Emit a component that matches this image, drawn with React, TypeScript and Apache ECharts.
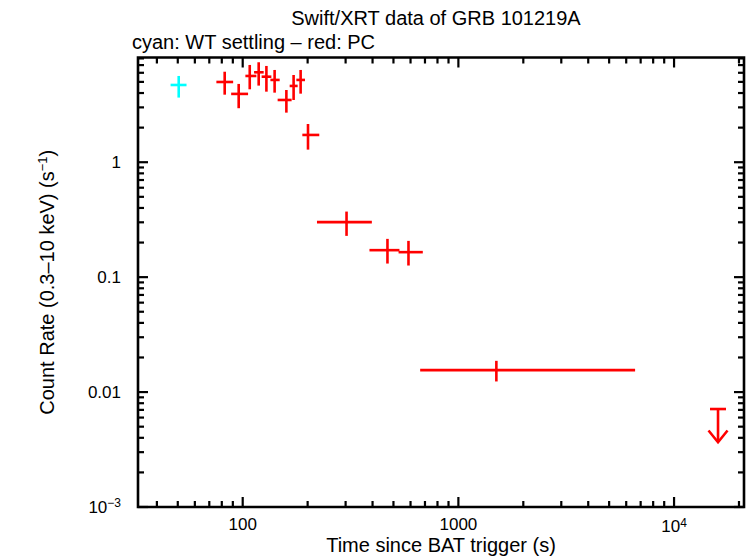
import React, { useEffect, useRef } from "react";
import * as echarts from "echarts";

// ---- Data ----
const wtTime = [50.5];
const wtTimeLo = [46.3];
const wtTimeHi = [54.9];
const wtRate = [4.7];
const wtRateLo = [3.65];
const wtRateHi = [5.63];

const pcTime = [82.5, 95.8, 107.8, 118.6, 128.8, 140.6, 159.4, 172.2, 185.6, 200.8, 303, 469, 587, 1500];
const pcTimeLo = [75.5, 88.4, 102.9, 112.9, 122.4, 134.4, 145.2, 165.1, 177.3, 189.0, 221, 387, 528, 665];
const pcTimeHi = [90.3, 105.9, 115.7, 125.1, 135.8, 148.4, 168.6, 179.8, 194.5, 226.5, 397, 533, 684, 6597];
const pcRate = [4.99, 3.93, 5.63, 6.06, 5.55, 5.2, 3.48, 4.61, 5.2, 1.727, 0.301, 0.1717, 0.165, 0.01553];
const pcRateLo = [3.87, 2.95, 4.31, 4.64, 4.11, 4.03, 2.7, 3.48, 3.95, 1.287, 0.2286, 0.1313, 0.1262, 0.01237];
const pcRateHi = [6.13, 4.8, 7.02, 7.41, 6.88, 6.35, 4.25, 5.74, 6.35, 2.15, 0.372, 0.2153, 0.2068, 0.0187];

const ulTime = [15990];
const ulRate = [0.00712];

const xMajorTicks = [100, 1000, 10000];
const xDecades = [10, 100, 1000, 10000];
const yMajorTicks = [0.001, 0.01, 0.1, 1];
const yDecades = [0.001, 0.01, 0.1, 1];
const minorMultipliers = [2, 3, 4, 5, 6, 7, 8, 9];

const xTickLabels: Record<string, string> = { "2": "100", "3": "1000", "4": "{b|10}{sup|4}" };
const yTickLabels: Record<string, string> = { "0": "1", "-1": "0.1", "-2": "0.01", "-3": "{b|10}{sup|\u22123}" };

const X_MIN = 32.7;
const X_MAX = 21100;
const Y_MIN = 0.001;
const Y_MAX = 8.15;

const FONT = "'Liberation Sans', Arial, Helvetica, sans-serif";

function logLabel(map: Record<string, string>) {
  return (v: number) => {
    const l = Math.log10(v);
    const r = Math.round(l);
    if (Math.abs(l - r) > 1e-6) return "";
    return map[String(r)] ?? "";
  };
}

export default function App() {
  const ref = useRef<HTMLDivElement>(null);

  useEffect(() => {
    if (!ref.current) return;
    const chart = echarts.init(ref.current, undefined, { renderer: "svg" });

    const xTicks: number[][] = [];
    xMajorTicks.forEach((v) => { if (v >= X_MIN && v <= X_MAX) xTicks.push([v, Y_MIN, 1]); });
    xDecades.forEach((d) => minorMultipliers.forEach((m) => {
      const v = d * m;
      if (v >= X_MIN && v <= X_MAX) xTicks.push([v, Y_MIN, 0]);
    }));
    const yTicks: number[][] = [];
    yMajorTicks.forEach((v) => { if (v >= Y_MIN && v <= Y_MAX) yTicks.push([X_MIN, v, 1]); });
    yDecades.forEach((d) => minorMultipliers.forEach((m) => {
      const v = d * m;
      if (v >= Y_MIN && v <= Y_MAX) yTicks.push([X_MIN, v, 0]);
    }));

    const wtData = wtTime.map((t, i) => [t, wtTimeLo[i], wtTimeHi[i], wtRate[i], wtRateLo[i], wtRateHi[i]]);
    const pcData = pcTime.map((t, i) => [t, pcTimeLo[i], pcTimeHi[i], pcRate[i], pcRateLo[i], pcRateHi[i]]);
    const ulData = ulTime.map((t, i) => [t, ulRate[i]]);

    const errRender = (color: string) => (params: any, api: any) => {
      const x = api.value(0), xlo = api.value(1), xhi = api.value(2);
      const y = api.value(3), ylo = api.value(4), yhi = api.value(5);
      const l = api.coord([xlo, y]);
      const r = api.coord([xhi, y]);
      const t = api.coord([x, yhi]);
      const b = api.coord([x, ylo]);
      const style = { stroke: color, lineWidth: 2.6 };
      return {
        type: "group",
        children: [
          { type: "line", shape: { x1: l[0], y1: l[1], x2: r[0], y2: r[1] }, style },
          { type: "line", shape: { x1: t[0], y1: t[1], x2: b[0], y2: b[1] }, style },
        ],
      };
    };

    const tickStyle = { stroke: "#000", lineWidth: 2.2 };

    const option: any = {
      animation: false,
      backgroundColor: "#fff",
      grid: {
        left: 138,
        right: 2,
        top: 57.5,
        bottom: 51,
        containLabel: false,
        outerBoundsMode: "none",
        show: true,
        borderColor: "#000",
        borderWidth: 2.6,
        backgroundColor: "transparent",
      },
      graphic: [
        {
          type: "text",
          x: 436,
          y: 18,
          style: {
            text: "Swift/XRT data of GRB 101219A",
            font: `20px ${FONT}`,
            fill: "#000",
            align: "center",
            verticalAlign: "middle",
            textAlign: "center",
            textVerticalAlign: "middle",
          },
        },
        {
          type: "text",
          x: 132,
          y: 41.5,
          style: {
            text: "cyan: WT settling \u2013 red: PC",
            font: `20px ${FONT}`,
            fill: "#000",
            align: "left",
            verticalAlign: "middle",
            textAlign: "left",
            textVerticalAlign: "middle",
          },
        },
      ],
      xAxis: {
        type: "log",
        logBase: 10,
        min: X_MIN,
        max: X_MAX,
        axisLine: { show: false },
        axisTick: { show: false },
        splitLine: { show: false },
        minorTick: { show: false },
        axisLabel: {
          show: true,
          margin: 10,
          lineHeight: 14,
          showMinLabel: false,
          showMaxLabel: false,
          color: "#000",
          fontFamily: FONT,
          fontSize: 17,
          formatter: logLabel(xTickLabels),
          rich: {
            b: { fontSize: 17, fontFamily: FONT, color: "#000", lineHeight: 18 },
            sup: { fontSize: 12, fontFamily: FONT, color: "#000", lineHeight: 12, verticalAlign: "top" },
          },
        },
        name: "Time since BAT trigger (s)",
        nameLocation: "middle",
        nameGap: 28,
        nameMoveOverlap: false,
        nameTextStyle: { fontSize: 20, fontFamily: FONT, color: "#000", lineHeight: 20 },
      },
      yAxis: {
        type: "log",
        logBase: 10,
        min: Y_MIN,
        max: Y_MAX,
        axisLine: { show: false },
        axisTick: { show: false },
        splitLine: { show: false },
        minorTick: { show: false },
        axisLabel: {
          show: true,
          margin: 17,
          showMinLabel: true,
          showMaxLabel: false,
          color: "#000",
          fontFamily: FONT,
          fontSize: 17,
          formatter: logLabel(yTickLabels),
          rich: {
            b: { fontSize: 17, fontFamily: FONT, color: "#000", lineHeight: 20 },
            sup: { fontSize: 12, fontFamily: FONT, color: "#000", lineHeight: 12, verticalAlign: "top" },
          },
        },
        name: "{t|Count Rate (0.3\u201310 keV) (s}{sup|\u22121}{t|)}",
        nameLocation: "middle",
        nameRotate: 90,
        nameGap: 80,
        nameMoveOverlap: false,
        nameTextStyle: {
          fontSize: 20,
          fontFamily: FONT,
          color: "#000",
          rich: {
            t: { fontSize: 20, fontFamily: FONT, color: "#000", lineHeight: 22 },
            sup: { fontSize: 13, fontFamily: FONT, color: "#000", lineHeight: 13, verticalAlign: "top" },
          },
        },
      },
      series: [
        {
          type: "custom",
          name: "xticks",
          data: xTicks,
          encode: { x: 0, y: 1 },
          silent: true,
          clip: false,
          renderItem: (params: any, api: any) => {
            const cs = params.coordSys;
            const px = api.coord([api.value(0), Y_MIN])[0];
            const len = api.value(2) ? 10 : 6;
            const bot = cs.y + cs.height;
            return {
              type: "group",
              children: [
                { type: "line", shape: { x1: px, y1: bot, x2: px, y2: bot - len }, style: tickStyle },
                { type: "line", shape: { x1: px, y1: cs.y, x2: px, y2: cs.y + len }, style: tickStyle },
              ],
            };
          },
        },
        {
          type: "custom",
          name: "yticks",
          data: yTicks,
          encode: { x: 0, y: 1 },
          silent: true,
          clip: false,
          renderItem: (params: any, api: any) => {
            const cs = params.coordSys;
            const py = api.coord([X_MIN, api.value(1)])[1];
            const len = api.value(2) ? 10 : 6;
            const right = cs.x + cs.width;
            return {
              type: "group",
              children: [
                { type: "line", shape: { x1: cs.x, y1: py, x2: cs.x + len, y2: py }, style: tickStyle },
                { type: "line", shape: { x1: right, y1: py, x2: right - len, y2: py }, style: tickStyle },
              ],
            };
          },
        },
        {
          type: "custom",
          name: "WT settling",
          data: wtData,
          encode: { x: 0, y: 3 },
          renderItem: errRender("#00ffff"),
        },
        {
          type: "custom",
          name: "PC",
          data: pcData,
          encode: { x: 0, y: 3 },
          renderItem: errRender("#ff0000"),
        },
        {
          type: "custom",
          name: "PC upper limit",
          data: ulData,
          encode: { x: 0, y: 1 },
          renderItem: (params: any, api: any) => {
            const p = api.coord([api.value(0), api.value(1)]);
            const style = { stroke: "#ff0000", lineWidth: 2.6, fill: "none" };
            return {
              type: "group",
              children: [
                { type: "line", shape: { x1: p[0] - 8, y1: p[1], x2: p[0] + 8, y2: p[1] }, style },
                { type: "line", shape: { x1: p[0], y1: p[1], x2: p[0], y2: p[1] + 33 }, style },
                {
                  type: "polyline",
                  shape: { points: [[p[0] - 9.5, p[1] + 21.5], [p[0], p[1] + 33.2], [p[0] + 9.5, p[1] + 21.5]] },
                  style,
                },
              ],
            };
          },
        },
      ],
    };

    chart.setOption(option);
    return () => chart.dispose();
  }, []);

  return (
    <div
      ref={ref}
      style={{ position: "fixed", left: 0, top: 0, width: 746, height: 558, background: "#fff" }}
    />
  );
}
